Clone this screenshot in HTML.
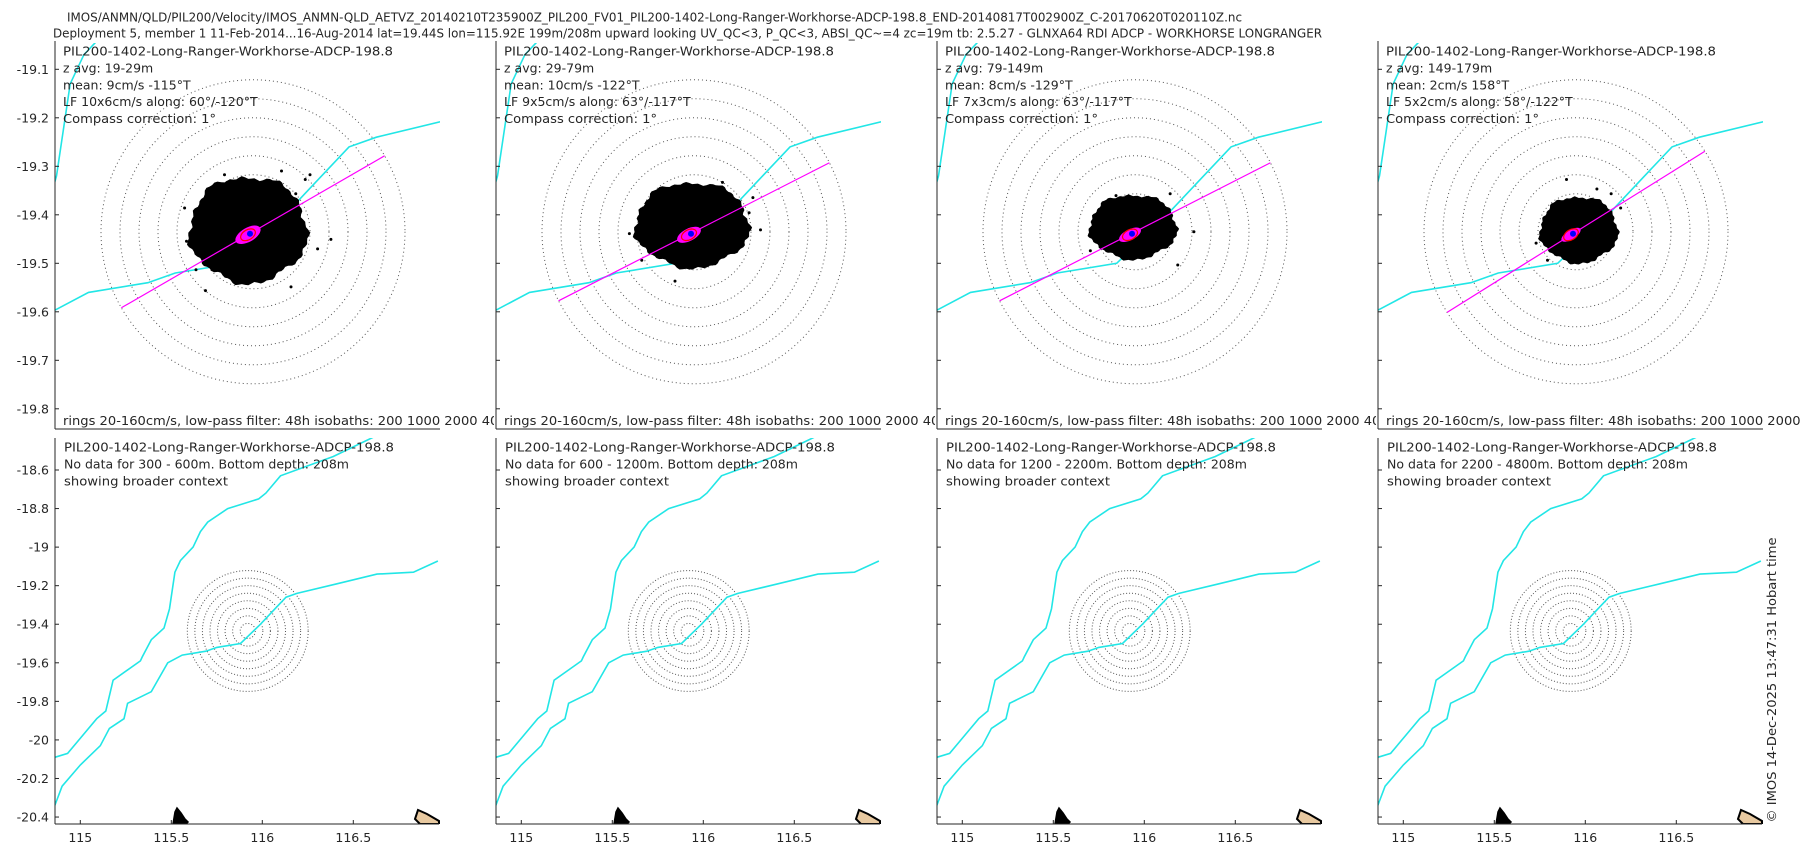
<!DOCTYPE html>
<html><head><meta charset="utf-8"><title>PIL200 velocity</title>
<style>
html,body{margin:0;padding:0;background:#fff;}
svg{display:block;font-family:"DejaVu Sans","Liberation Sans",sans-serif;}
text{fill:#262626;font-size:12.5px;}
</style></head>
<body>
<svg id="fig" width="1800" height="850" viewBox="0 0 1800 850" xmlns="http://www.w3.org/2000/svg">
<text x="67" y="21.5" textLength="1175" lengthAdjust="spacingAndGlyphs">IMOS/ANMN/QLD/PIL200/Velocity/IMOS_ANMN-QLD_AETVZ_20140210T235900Z_PIL200_FV01_PIL200-1402-Long-Ranger-Workhorse-ADCP-198.8_END-20140817T002900Z_C-20170620T020110Z.nc</text>
<text x="53" y="37.5" textLength="1269" lengthAdjust="spacingAndGlyphs">Deployment 5, member 1 11-Feb-2014...16-Aug-2014 lat=19.44S lon=115.92E 199m/208m upward looking UV_QC&lt;3, P_QC&lt;3, ABSI_QC~=4 zc=19m tb: 2.5.27 - GLNXA64 RDI ADCP - WORKHORSE LONGRANGER</text>
<text transform="translate(1776,680) rotate(-90)" text-anchor="middle" textLength="285" lengthAdjust="spacingAndGlyphs">© IMOS 14-Dec-2025 13:47:31 Hobart time</text>
</svg>
<script>
// ---- data ----
const isoA_lon=[116.965,116.83,116.63,116.41,116.19,116.13,116.06,115.99,115.88,115.75,115.69,115.56,115.48,115.42,115.39,115.26,115.24,115.16,115.11,115.0,114.90,114.86];
const isoA_lat=[-19.072,-19.13,-19.14,-19.19,-19.24,-19.26,-19.33,-19.40,-19.50,-19.52,-19.54,-19.56,-19.60,-19.70,-19.75,-19.81,-19.89,-19.94,-20.03,-20.13,-20.24,-20.34];
const isoB_lon=[116.61,116.39,116.10,116.02,115.98,115.81,115.70,115.66,115.62,115.55,115.52,115.49,115.46,115.39,115.34,115.33,115.18,115.14,115.09,115.01,114.93,114.86];
const isoB_lat=[-18.43,-18.53,-18.63,-18.72,-18.75,-18.80,-18.87,-18.92,-19.00,-19.07,-19.13,-19.32,-19.42,-19.48,-19.57,-19.59,-19.69,-19.85,-19.89,-19.98,-20.07,-20.09];
const siteLon=115.92, siteLat=-19.435;
const ringSpeeds=[20,40,60,80,100,120,140,160];
const topYTicks=[-19.1,-19.2,-19.3,-19.4,-19.5,-19.6,-19.7,-19.8];
const botYTicks=[-18.6,-18.8,-19,-19.2,-19.4,-19.6,-19.8,-20,-20.2,-20.4];
const botYLabels=["-18.6","-18.8","-19","-19.2","-19.4","-19.6","-19.8","-20","-20.2","-20.4"];
const xTicks=[115,115.5,116,116.5];
const zRanges=["19-29m","29-79m","79-149m","149-179m"];
const meanTxt=["9cm/s -115°T","10cm/s -122°T","8cm/s -129°T","2cm/s 158°T"];
const lfTxt=["10x6cm/s along: 60°/-120°T","9x5cm/s along: 63°/-117°T","7x3cm/s along: 63°/-117°T","5x2cm/s along: 58°/-122°T"];
const noData=["300 - 600m","600 - 1200m","1200 - 2200m","2200 - 4800m"];
const alongDeg=[60,63,63,58];
// scatter cloud (cm/s): centre east, centre north, half-width, half-height
const blobU=[-5,-2,-2,3];
const blobV=[-2,-7,-5,-2];
const blobRU=[62,60,46,41];
const blobRV=[56,45,34,35];
const outU=[[-70,-45,-72,60,55,40,-50,30,68,-30,82,-60,45],[-68,58,62,-40,30,70,-20,-55],[62,-47,37,-20,45],[-42,47,22,-10,37,-30]];
const outV=[[10,-30,-25,-60,-55,58,62,-64,18,-60,8,40,-40],[2,-20,-36,-5,-52,-2,52,30],[0,20,-40,-38,35],[12,-25,-45,-55,-40,30]];

// ---- layout ----
const NS="http://www.w3.org/2000/svg";
const svg=document.getElementById('fig');
const colX=[55,496,937,1378];
const W=384;
const T={top:43,bot:429}, B={top:438,bot:824};
const pxPerCm=0.95;
function topX(c,lon){return colX[c]+198+(lon-115.92)*457;}
function topY(lat){return 69.3+(-19.1-lat)*485;}
function botX(c,lon){return colX[c]+25.3+(lon-115)*182;}
function botY(lat){return 470+(-18.6-lat)*192.8;}
function el(tag,attrs,parent){const e=document.createElementNS(NS,tag);for(const k in attrs)e.setAttribute(k,attrs[k]);(parent||svg).appendChild(e);return e;}
function txt(x,y,s,parent,len,anchor){const t=el('text',{x:x,y:y},parent);if(len){t.setAttribute('textLength',len);t.setAttribute('lengthAdjust','spacingAndGlyphs');}if(anchor)t.setAttribute('text-anchor',anchor);t.textContent=s;return t;}

const defs=el('defs',{});
for(let c=0;c<4;c++){
  const cp=el('clipPath',{id:'ct'+c},defs);el('rect',{x:colX[c],y:T.top,width:W+1,height:T.bot-T.top},cp);
  const cb=el('clipPath',{id:'cb'+c},defs);el('rect',{x:colX[c],y:B.top,width:W+1,height:B.bot-B.top},cb);
}

for(let c=0;c<4;c++){
  const g=el('g',{});
  
  
  el('rect',{x:colX[c]-2,y:T.top-2,width:W+6,height:T.bot-T.top+3,fill:'#fff'},g);
  const pg=el('g',{'clip-path':'url(#ct'+c+')'},g);
  const cx=topX(c,siteLon), cy=topY(siteLat);
  ringSpeeds.forEach(s=>{
    const r=el('circle',{cx:cx,cy:cy,r:s*pxPerCm,fill:'none',stroke:'#555','stroke-width':1,'stroke-dasharray':'1 3'},pg);
    
    
  });
  [[isoA_lon,isoA_lat],[isoB_lon,isoB_lat]].forEach((iso,k)=>{
    const pts=iso[0].map((lo,i)=>topX(c,lo).toFixed(1)+','+topY(iso[1][i]).toFixed(1)).join(' ');
    const p=el('polyline',{points:pts,fill:'none',stroke:'#22e6e6','stroke-width':1.6},pg);
    
    
  });
  const bx=cx+blobU[c]*pxPerCm, by=cy+blobV[c]*pxPerCm;
  let d='';
  for(let i=0;i<=120;i++){const a=i/120*2*Math.PI;const j=1+0.035*Math.sin(5*a)+0.025*Math.sin(11*a+1)+0.02*Math.sin(29*a);
    d+=(i?'L':'M')+(bx+Math.cos(a)*blobRU[c]*pxPerCm*j).toFixed(1)+' '+(by+Math.sin(a)*blobRV[c]*pxPerCm*j).toFixed(1);}
  const blob=el('path',{d:d+'Z',fill:'#000'},pg);
  
  
  outU[c].forEach((u,i)=>{
    const o=el('circle',{cx:cx+u*pxPerCm,cy:cy+outV[c][i]*pxPerCm,r:1.5,fill:'#000'},pg);
    
    
  });
  const ang=(90-alongDeg[c])*Math.PI/180, R=160*pxPerCm;
  const ln=el('line',{x1:cx-R*Math.cos(ang),y1:cy+R*Math.sin(ang),x2:cx+R*Math.cos(ang),y2:cy-R*Math.sin(ang),stroke:'#ff00ff','stroke-width':1.2},pg);
  
  
  const lp=el('ellipse',{cx:cx-5,cy:cy+3,rx:14-c,ry:7-c*0.8,fill:'#ff00ff',transform:'rotate('+(-(90-alongDeg[c]))+' '+(cx-5)+' '+(cy+3)+')'},pg);
  
  
  const ve=el('ellipse',{cx:cx-5,cy:cy+3,rx:8,ry:5,fill:'none',stroke:'#ff0000','stroke-width':1.2,transform:'rotate('+(-(90-alongDeg[c]))+' '+(cx-5)+' '+(cy+3)+')'},pg);
  
  
  const mn=el('circle',{cx:cx-3,cy:cy+2,r:3,fill:'#0000ff'},pg);
  
  
  el('line',{x1:colX[c],y1:T.top-2,x2:colX[c],y2:T.bot,stroke:'#262626','stroke-width':1},g);
  el('line',{x1:colX[c],y1:T.bot,x2:colX[c]+W+1,y2:T.bot,stroke:'#262626','stroke-width':1},g);
  topYTicks.forEach(v=>{
    el('line',{x1:colX[c],y1:topY(v),x2:colX[c]+4,y2:topY(v),stroke:'#262626'},g);
    if(c===0){const t=txt(colX[c]-6,topY(v)+4.5,String(v),g,null,'end');
      
      }
  });
  const tx=colX[c]+8;
  txt(tx,55.5,'PIL200-1402-Long-Ranger-Workhorse-ADCP-198.8',g,330);
  txt(tx,72.5,'z avg: '+zRanges[c],g);
  txt(tx,89.5,'mean: '+meanTxt[c],g);
  txt(tx,106,'LF '+lfTxt[c],g);
  txt(tx,123,'Compass correction: 1°',g,153);
  const rt=txt(tx,425,'rings 20-160cm/s, low-pass filter: 48h isobaths: 200 1000 2000 4000',g,452);
  
  
}
for(let c=0;c<4;c++){
  const g=el('g',{});
  
  
  const pg=el('g',{'clip-path':'url(#cb'+c+')'},g);
  const cx=botX(c,siteLon), cy=botY(siteLat);
  const sc=192.8/485;
  ringSpeeds.forEach(s=>{
    const r=el('circle',{cx:cx,cy:cy,r:s*pxPerCm*sc,fill:'none',stroke:'#555','stroke-width':1,'stroke-dasharray':'1 2'},pg);
    
    
  });
  [[isoA_lon,isoA_lat],[isoB_lon,isoB_lat]].forEach((iso,k)=>{
    const pts=iso[0].map((lo,i)=>botX(c,lo).toFixed(1)+','+botY(iso[1][i]).toFixed(1)).join(' ');
    const p=el('polyline',{points:pts,fill:'none',stroke:'#22e6e6','stroke-width':1.6},pg);
    
    
  });
  const ix=colX[c];
  const is1=el('path',{d:`M${ix+118} 824 L${ix+120} 812 L${ix+122} 808 L${ix+126} 813 L${ix+130} 819 L${ix+133} 822 L${ix+131} 824 Z`,fill:'#000',stroke:'#000','stroke-width':1.5},pg);
  
  
  const is2=el('path',{d:`M${ix+360} 819 L${ix+363} 810 L${ix+372} 814 L${ix+384} 821 L${ix+384} 824 L${ix+365} 824 Z`,fill:'#e8c9a0',stroke:'#000','stroke-width':2},pg);
  
  
  el('line',{x1:colX[c],y1:B.top,x2:colX[c],y2:B.bot,stroke:'#262626'},g);
  el('line',{x1:colX[c],y1:B.bot,x2:colX[c]+W,y2:B.bot,stroke:'#262626'},g);
  botYTicks.forEach((v,i)=>{
    el('line',{x1:colX[c],y1:botY(v),x2:colX[c]+4,y2:botY(v),stroke:'#262626'},g);
    if(c===0){const t=txt(colX[c]-6,botY(v)+4.5,botYLabels[i],g,null,'end');
      
      }
  });
  xTicks.forEach(v=>{
    el('line',{x1:botX(c,v),y1:B.bot,x2:botX(c,v),y2:B.bot-4,stroke:'#262626'},g);
    const t=txt(botX(c,v),842,String(v),g,null,'middle');
    
    
  });
  const tx=colX[c]+9;
  txt(tx,451.5,'PIL200-1402-Long-Ranger-Workhorse-ADCP-198.8',g,330);
  txt(tx,468.5,'No data for '+noData[c]+'. Bottom depth: 208m',g);
  txt(tx,485.5,'showing broader context',g,164);
}
</script>
</body></html>
